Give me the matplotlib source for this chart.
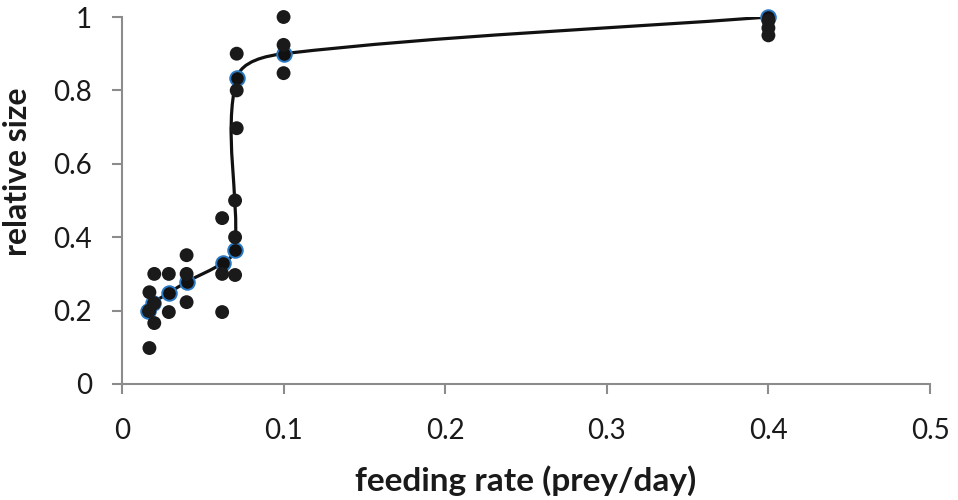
import matplotlib
matplotlib.use("Agg")
import matplotlib.pyplot as plt
import numpy as np
from matplotlib.path import Path
from matplotlib.patches import PathPatch

plt.rcParams['font.family'] = ['Lato', 'DejaVu Sans']

# individual observations
raw_x = [0.017, 0.017, 0.017,
         0.020, 0.020, 0.020,
         0.029, 0.029,
         0.040, 0.040, 0.040,
         0.062, 0.062, 0.062,
         0.070, 0.070, 0.070,
         0.071, 0.071, 0.071,
         0.100, 0.100, 0.100,
         0.400, 0.400, 0.400]
raw_y = [0.098, 0.25, 0.20,
         0.166, 0.30, 0.22,
         0.30, 0.196,
         0.351, 0.30, 0.223,
         0.30, 0.196, 0.452,
         0.297, 0.40, 0.50,
         0.697, 0.80, 0.90,
         1.00, 0.924, 0.847,
         0.99, 0.97, 0.95]

# mean series (smoothed line)
mean_x = [0.016, 0.019, 0.029, 0.040, 0.0625, 0.070, 0.071, 0.100, 0.400]
mean_y = [0.200, 0.220, 0.248, 0.278, 0.330, 0.365, 0.833, 0.900, 1.000]

x_ticks = [0, 0.1, 0.2, 0.3, 0.4, 0.5]
y_ticks = [0, 0.2, 0.4, 0.6, 0.8, 1]

fig = plt.figure(figsize=(9.58, 5.0), dpi=100)
ax = fig.add_axes([0.1273, 0.232, 0.8435, 0.734])
ax.set_xlim(0, 0.5)
ax.set_ylim(0, 1)

axis_grey = '#8c8c8c'
text_col = '#1a1a1a'

# spreadsheet-style smoothed line: bezier segments worked out in pixel space
disp = ax.transData.transform(np.column_stack([mean_x, mean_y]))
n = len(disp)
tang = []
for i in range(n):
    a = disp[max(i - 1, 0)]
    b = disp[min(i + 1, n - 1)]
    t = b - a
    tang.append(t / np.hypot(*t))
verts = [disp[0]]
codes = [Path.MOVETO]
for i in range(n - 1):
    seg = np.hypot(*(disp[i + 1] - disp[i])) / 3
    verts += [disp[i] + tang[i] * seg, disp[i + 1] - tang[i + 1] * seg, disp[i + 1]]
    codes += [Path.CURVE4] * 3
verts = ax.transData.inverted().transform(np.array(verts))
ax.add_patch(PathPatch(Path(verts, codes), facecolor='none',
                       edgecolor='#111111', lw=2.3, zorder=2))

ax.scatter(mean_x, mean_y, s=110, c='#111111', edgecolors='#2a78c4',
           linewidths=1.4, zorder=3, clip_on=False)
ax.scatter(raw_x, raw_y, s=100, c='#1a1a1a', edgecolors='none',
           zorder=4, clip_on=False)

ax.set_xticks(x_ticks)
ax.set_xticklabels(['0', '0.1', '0.2', '0.3', '0.4', '0.5'])
ax.set_yticks(y_ticks)
ax.set_yticklabels(['0', '0.2', '0.4', '0.6', '0.8', '1'])

for s in ['top', 'right']:
    ax.spines[s].set_visible(False)
for s in ['left', 'bottom']:
    ax.spines[s].set_color(axis_grey)
    ax.spines[s].set_linewidth(1.5)

ax.tick_params(axis='both', direction='out', length=7.5, width=1.5,
               color=axis_grey, labelsize=20, labelcolor=text_col)
ax.tick_params(axis='x', pad=17)
ax.tick_params(axis='y', pad=14)

ax.set_xlabel('feeding rate (prey/day)', fontsize=24, fontweight='bold',
              color=text_col, labelpad=15)
ax.set_ylabel('relative size', fontsize=23, fontweight='bold',
              color=text_col)
ax.yaxis.set_label_coords(-0.111, 0.578)

fig.savefig('out.png', dpi=100)
